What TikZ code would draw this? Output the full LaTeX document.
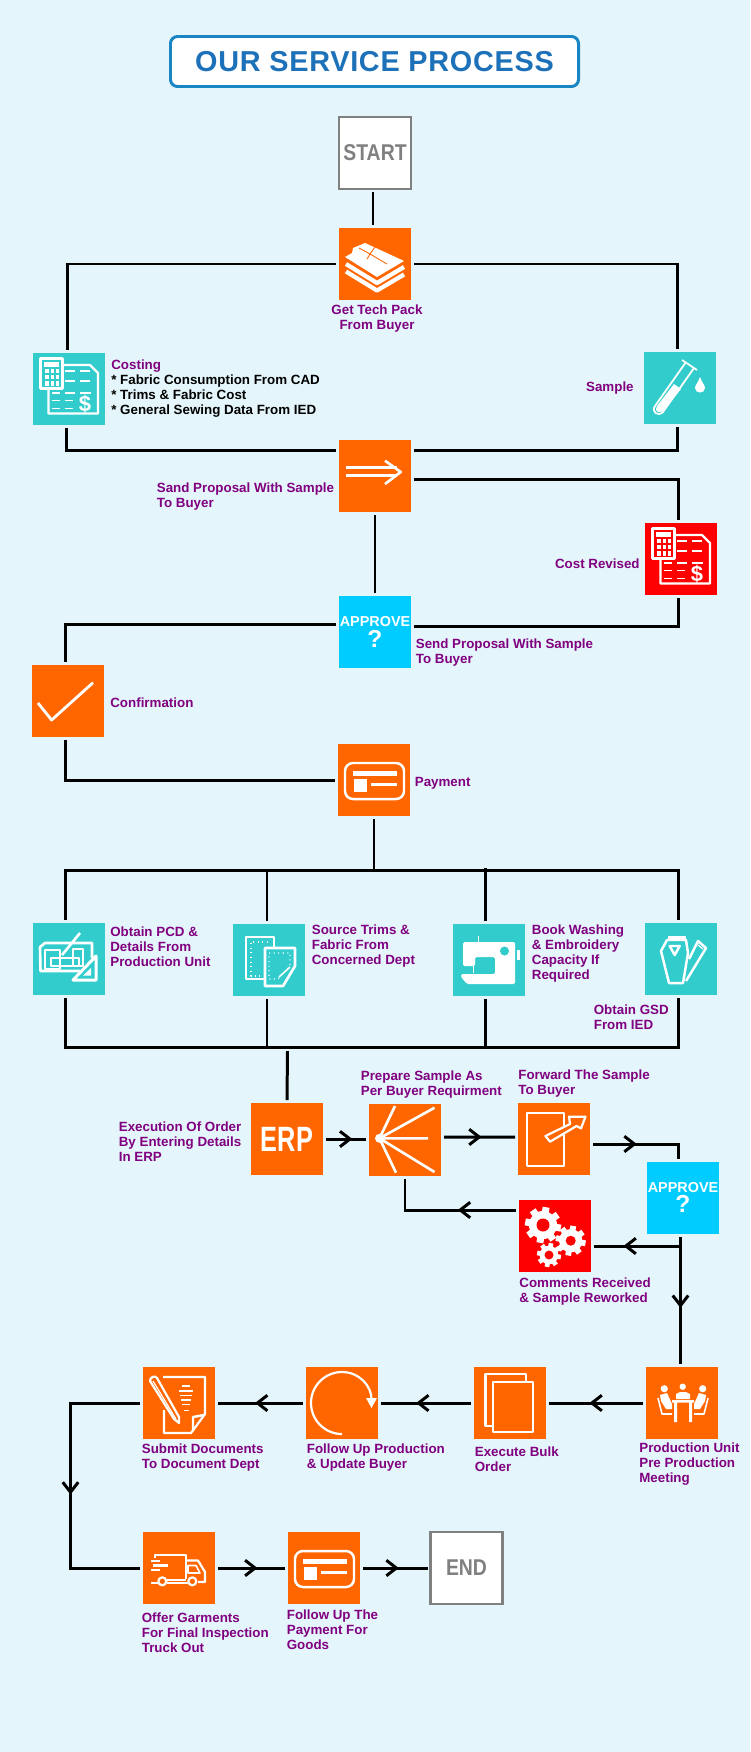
\documentclass[tikz,border=0pt]{standalone}
\usepackage{fontspec}
\setmainfont{Liberation Sans}
\newfontfamily\stepfont[FakeStretch=0.85]{Liberation Sans}
\newfontfamily\erpfont[FakeStretch=0.72]{Liberation Sans}
\newfontfamily\headfont[LetterSpace=2.5]{Liberation Sans}
\usetikzlibrary{arrows.meta,decorations.markings}

\definecolor{sheet}{HTML}{E4F6FB}
\definecolor{orangefill}{HTML}{FF6600}
\definecolor{tealfill}{HTML}{33CCCC}
\definecolor{redfill}{HTML}{FF0000}
\definecolor{bluefill}{HTML}{00CCFF}
\definecolor{lblpurple}{HTML}{800080}
\definecolor{termgray}{HTML}{808080}
\definecolor{headblue}{HTML}{1D71B8}

\tikzset{
  glyph/.style={shift={(#1.center)}, xshift=-0.72cm, yshift=0.72cm, x=0.02cm, y=-0.02cm,
                white, line width=1.25pt, line join=round}
}

% --- icons, drawn on a 72 x 72 grid inside the box -----------------------
\newcommand{\iconshirts}[1]{%
  \begin{scope}[glyph=#1]
    \fill (6,29) -- (13,25) -- (14,20) -- (26,15) -- (37,20) -- (65,33) -- (38,49) -- cycle;
    \draw[orangefill, line width=0.5pt] (20,20) -- (31,26) -- (28,31) (31,26) -- (36,19) (31,26) -- (48,36);
    \foreach \dy in {0,7.5}
      \draw[line width=2.4pt] (7,36+\dy) -- (38,55+\dy) -- (65,39+\dy);
  \end{scope}}
\newcommand{\iconcost}[2]{%
  \begin{scope}[glyph=#1]
    \draw (29.5,12) -- (57,12) -- (65,20) -- (65,60.5) -- (15.5,60.5) -- (15.5,35);
    \foreach \y in {18,28} \draw[line width=1pt] (32,\y) -- (42,\y) (47,\y) -- (57,\y);
    \draw[line width=1pt] (19,40) -- (27,40) (32,40) -- (42,40) (47,40) -- (58,40);
    \foreach \y in {47.5,55.5} \draw[line width=1pt] (19,\y) -- (27,\y) (32,\y) -- (40,\y);
    \draw[fill=#2, line width=1.5pt] (7.5,5.5) rectangle (29.5,35.5);
    \fill (11,9) rectangle (26,13.5);
    \foreach \x in {12.3,17.7,22.7} \foreach \y in {15.7,21.7,28} \fill (\x,\y) rectangle +(3.6,4.6);
    \node[inner sep=0pt, font=\bfseries\fontsize{12.5}{13}\selectfont] (#1-usd) at (52,51.5) {\$};
  \end{scope}}
\newcommand{\iconcard}[1]{%
  \begin{scope}[glyph=#1]
    \draw[line width=1.4pt, rounded corners=0.16cm] (7,19) rectangle (66,55);
    \fill (15,27) rectangle (59,32);
    \fill (16,35) rectangle (29,48);
    \fill (32.5,38.5) rectangle (59,41.5);
  \end{scope}}
\newcommand{\gearwheel}[4]{%
  \fill (#1,#2) circle[radius=#3*0.78];
  \foreach \a in {0,45,...,315}
    \draw[line width=#3*0.22pt] (#1,#2) ++(\a+10:#3*0.6) -- ++(\a+10:#3*0.4);
  \fill[redfill] (#1,#2) circle[radius=#4];}

\begin{document}
\begin{tikzpicture}[
    font=\fontsize{7.6}{8.54}\selectfont,
    iconbox/.style ={minimum width=1.44cm, minimum height=1.44cm, inner sep=0pt, outer sep=0.06cm},
    orangebox/.style={iconbox, fill=orangefill},
    tealbox/.style ={iconbox, fill=tealfill},
    redbox/.style  ={iconbox, fill=redfill},
    askbox/.style  ={iconbox, fill=bluefill, text=white, align=center,
                     font=\bfseries\fontsize{8.2}{9}\selectfont},
    termbox/.style ={iconbox, fill=white, draw=termgray, line width=1.5pt, text=termgray,
                     font=\stepfont\bfseries\fontsize{13}{13}\selectfont},
    lbl/.style     ={text=lblpurple, align=left, inner sep=0pt, yshift=-0.01cm,
                     font=\fontsize{7.6}{8.54}\selectfont\bfseries},
    fl/.style      ={draw=black, line width=1.7pt},
    midtip/.style  ={postaction={decorate}, decoration={markings, mark=at position #1 with
                     {\arrow{Straight Barb[length=2mm,width=3.1mm]}}}}
  ]
  \useasboundingbox (0,0) rectangle (15,-35.04);
  \fill[sheet] (0,0) rectangle (15,-35.04);

  % --- title -------------------------------------------------------------
  \node[draw=headblue!85!cyan, fill=white, line width=1.7pt, rounded corners=0.14cm,
        minimum width=8.16cm, minimum height=1cm, inner sep=0pt, text=headblue,
        font=\headfont\bfseries\fontsize{16.4}{17}\selectfont] (head) at (7.49,-1.23) {OUR SERVICE PROCESS};

  % --- first rows --------------------------------------------------------
  \node[termbox] (start) at (7.5,-3.06) {\raisebox{-1pt}{START}};
  \node[orangebox] (tech) at (7.5,-5.28) {};
  \node[tealbox] (cost) at (1.38,-7.78) {};
  \node[tealbox] (sample) at (13.6,-7.76) {};
  \node[orangebox] (send) at (7.5,-9.52) {};
  \node[redbox] (revised) at (13.62,-11.18) {};
  \node[askbox] (approve) at (7.5,-12.64) {APPROVE\\[1pt]{\fontsize{14}{14}\selectfont ?}};
  \node[orangebox] (confirm) at (1.36,-14.02) {};
  \node[orangebox] (pay) at (7.48,-15.6) {};

  \node[lbl, align=center] (ltech) at (7.54,-6.37) {Get Tech Pack\\From Buyer};
  \node[lbl, anchor=west] (lcost) at (2.22,-7.76) {Costing\\\textcolor{black}{* Fabric Consumption From CAD}\\
    \textcolor{black}{* Trims \& Fabric Cost}\\\textcolor{black}{* General Sewing Data From IED}};
  \node[lbl, anchor=east] (lsample) at (12.68,-7.76) {Sample};
  \node[lbl, anchor=west] (lsend) at (3.13,-9.92) {Sand Proposal With Sample\\To Buyer};
  \node[lbl, anchor=east] (lrevised) at (12.8,-11.26) {Cost Revised};
  \node[lbl, anchor=west] (lapprove) at (8.31,-13.04) {Send Proposal With Sample\\To Buyer};
  \node[lbl, anchor=west] (lconfirm) at (2.2,-14.04) {Confirmation};
  \node[lbl, anchor=west] (lpay) at (8.29,-15.66) {Payment};

  % --- parallel tasks ----------------------------------------------------
  \node[tealbox] (pcd) at (1.38,-19.18) {};
  \node[tealbox] (trims) at (5.38,-19.2) {};
  \node[tealbox] (sewing) at (9.78,-19.2) {};
  \node[tealbox] (gsd) at (13.62,-19.18) {};

  \node[lbl, anchor=west] (lpcd) at (2.2,-18.93) {Obtain PCD \&\\Details From\\Production Unit};
  \node[lbl, anchor=west] (ltrims) at (6.23,-18.92) {Source Trims \&\\Fabric From\\Concerned Dept};
  \node[lbl, anchor=west] (lsewing) at (10.63,-19.07) {Book Washing\\\& Embroidery\\Capacity If\\Required};
  \node[lbl, anchor=west] (lgsd) at (11.87,-20.33) {Obtain GSD\\From IED};

  % --- sample loop --------------------------------------------------------
  \node[orangebox, text=white, font=\erpfont\bfseries\fontsize{20}{20}\selectfont] (erp) at (5.74,-22.78) {ERP};
  \node[orangebox] (prep) at (8.1,-22.8) {};
  \node[orangebox] (fwd) at (11.08,-22.78) {};
  \node[askbox] (approveb) at (13.66,-23.95) {APPROVE\\[1pt]{\fontsize{14}{14}\selectfont ?}};
  \node[redbox] (comments) at (11.1,-24.72) {};

  \node[lbl, anchor=west] (lerp) at (2.37,-22.82) {Execution Of Order\\By Entering Details\\In ERP};
  \node[lbl, anchor=west] (lprep) at (7.21,-21.69) {Prepare Sample As\\Per Buyer Requirment};
  \node[lbl, anchor=west] (lfwd) at (10.36,-21.67) {Forward The Sample\\To Buyer};
  \node[lbl, anchor=west] (lcomments) at (10.38,-25.83) {Comments Received\\\& Sample Reworked};

  % --- bottom rows -------------------------------------------------------
  \node[orangebox] (meeting) at (13.64,-28.06) {};
  \node[orangebox] (bulk) at (10.2,-28.06) {};
  \node[orangebox] (follow) at (6.84,-28.06) {};
  \node[orangebox] (submit) at (3.58,-28.06) {};
  \node[orangebox] (offer) at (3.58,-31.36) {};
  \node[orangebox] (payb) at (6.48,-31.36) {};
  \node[termbox] (endb) at (9.33,-31.36) {END};

  \node[lbl, anchor=west] (lmeeting) at (12.78,-29.28) {Production Unit\\Pre Production\\Meeting};
  \node[lbl, anchor=west] (lbulk) at (9.49,-29.17) {Execute Bulk\\Order};
  \node[lbl, anchor=west] (lfollow) at (6.13,-29.15) {Follow Up Production\\\& Update Buyer};
  \node[lbl, anchor=west] (lsubmit) at (2.83,-29.15) {Submit Documents\\To Document Dept};
  \node[lbl, anchor=west] (loffer) at (2.83,-32.64) {Offer Garments\\For Final Inspection\\Truck Out};
  \node[lbl, anchor=west] (lpayb) at (5.73,-32.58) {Follow Up The\\Payment For\\Goods};

  % --- icons -------------------------------------------------------------
  \iconshirts{tech}
  \iconcost{cost}{tealfill}
  \iconcost{revised}{redfill}
  \iconcard{pay}
  \iconcard{payb}
  \begin{scope}[glyph=sample, line width=1pt]
    \draw (42,10) -- (11,54) .. controls (7,60) and (14,65) .. (19,60) -- (50,16);
    \draw (38,8) -- (53,18);
    \fill (30,32) -- (37,37) -- (19,59) .. controls (14,62) and (10,59) .. (13,54) -- cycle;
    \fill (56,25) .. controls (54,31) and (51,33) .. (51,36) .. controls (51,42) and (61,42) .. (61,36) .. controls (61,33) and (58,31) .. (56,25) -- cycle;
  \end{scope}
  \begin{scope}[glyph=send, line width=1.5pt]
    \draw (7,27.7) -- (58,27.7) (7,35.7) -- (58,35.7);
    \draw (46,20.7) -- (61.7,32) -- (46,44);
  \end{scope}
  \begin{scope}[glyph=confirm, line width=1.6pt]
    \draw (6,38) -- (19.6,55) -- (61,17.7);
  \end{scope}
  \begin{scope}[glyph=pcd]
    \draw[line width=1.5pt] (59,35) -- (59,20) -- (12,20) -- (7,24) -- (7.5,48) -- (47,48);
    \draw[line width=0.7pt] (12,27) rectangle (27,46) (18,35) rectangle (46,43) (40,26) rectangle (50,43);
    \draw[line width=1.5pt] (29,32) -- (47,10);
    \draw[fill=tealfill, line width=1.7pt] (63,33) -- (63,57) -- (40,57) -- cycle;
    \fill (58,45) -- (58,52.5) -- (50,52.5) -- cycle;
  \end{scope}
  \begin{scope}[glyph=trims]
    \draw[line width=1.5pt] (32,55) -- (13,55) -- (13,13) -- (41,13) -- (41,23);
    \draw[line width=1.5pt, fill=tealfill] (32,24) -- (62,24) -- (62,42) -- (50,62) -- (32,62) -- cycle;
    \draw[dotted, line width=0.6pt] (35,18) -- (18,18) -- (18,52) -- (30,52);
    \draw[dotted, line width=0.6pt] (36,29) -- (57,29) -- (57,42) -- (45,55) -- (36,55) -- cycle;
    \draw[line width=0.9pt] (46,53) -- (57,43);
  \end{scope}
  \begin{scope}[glyph=sewing]
    \fill[rounded corners=0.03cm] (10,18) -- (62,18) -- (62,60) -- (14,60) -- (8,53) -- (8,50) -- (42,50) -- (42,33)
       -- (22,33) -- (22,42) -- (10,42) -- cycle;
    \fill[tealfill] (51.5,27) circle[radius=4.5];
    \fill (63.5,26) rectangle (66.5,36);
    \draw[line width=0.5pt] (25,12) -- (25,18) (20,42) -- (20,49);
  \end{scope}
  \begin{scope}[glyph=gsd]
    \draw[line width=1.4pt] (22,17) -- (16,28) -- (24,60) -- (38,60) -- (43,30) -- (41,17) -- cycle;
    \fill (22.5,13) rectangle (41,17);
    \draw[line width=1.4pt] (24.7,23) -- (34.7,23) -- (29.7,32) -- cycle;
    \draw[fill=tealfill, line width=1.4pt] (44,36) -- (53,18) -- (61,25) -- (41,58);
    \draw[line width=0.7pt] (53,22) -- (58,26);
  \end{scope}
  \begin{scope}[glyph=prep]
    \fill (10.5,34.3) circle[radius=4.5];
    \draw[line width=1.5pt] (10.5,34.3) -- (26,2) (10.5,34.3) -- (65.5,3.7) (10.5,34.3) -- (59,34.3)
      (10.5,34.3) -- (65.5,68) (10.5,34.3) -- (27,68.7);
  \end{scope}
  \begin{scope}[glyph=fwd]
    \draw (8.6,9.7) rectangle (46,63);
    \draw[fill=orangefill] (27.4,33) -- (52,21) -- (51,13.7) -- (67.5,13.7) -- (63,25.3) -- (58.5,23) -- (32,38.7) -- cycle;
  \end{scope}
  \begin{scope}[glyph=comments]
    \gearwheel{24}{25}{18}{6.5}
    \gearwheel{51.7}{40.7}{15}{5}
    \gearwheel{30}{55}{12}{4.5}
  \end{scope}
  \begin{scope}[glyph=meeting]
    \fill (18.3,21.7) circle[radius=3.6] (36.7,19.7) circle[radius=3.2] (56.7,21.7) circle[radius=3.6];
    \fill (30,32) -- (30,27) -- (34,25) -- (40,25) -- (44,27) -- (44,32) -- cycle;
    \fill (26,33) rectangle (48,35.5) (28,35.5) rectangle (31,55) (43,35.5) rectangle (46,55);
    \fill (14,28) -- (21,26) -- (26,37) -- (26,42) -- (20,42) -- (15,34) -- cycle;
    \fill (60,28) -- (53,26) -- (48,37) -- (48,42) -- (54,42) -- (59,34) -- cycle;
    \draw[line width=0.9pt] (12,31) -- (16,47) -- (26,47) (62,31) -- (58,47) -- (48,47);
  \end{scope}
  \begin{scope}[glyph=bulk]
    \draw (52,14.7) -- (52,7.3) -- (11.5,7.3) -- (11.5,59) -- (18.7,59);
    \draw (18.7,14.7) rectangle (59,65);
  \end{scope}
  \begin{scope}[glyph=follow]
    \draw (36,67) .. controls (18.9,67) and (5,53.1) .. (5,36) .. controls (5,18.9) and (18.9,5) .. (36,5)
      .. controls (53.1,5) and (65.5,18.9) .. (65.5,32);
    \fill (60,31) -- (71,31) -- (65.5,41) -- cycle;
  \end{scope}
  \begin{scope}[glyph=submit]
    \draw (20,10) -- (62,10) -- (62,47) -- (48,66) -- (21,66) -- (21,43);
    \draw[line width=1.4pt] (50,64) -- (50,50) -- (61,48);
    \draw[line width=1pt] (39,19) -- (47,19) (36,24) -- (50,24) (37,28.5) -- (49,28.5)
      (38,33) -- (48,33) (39,37.5) -- (47,37.5) (41,43.5) -- (46,43.5);
    \draw[fill=orangefill] (7,14) .. controls (7,10) and (12,8) .. (14,11) -- (36,50) -- (36,56) -- (31,52) -- cycle;
    \draw[line width=0.7pt] (10,14) -- (33,52);
  \end{scope}
  \begin{scope}[glyph=offer]
    \draw (12,26) -- (12,23) -- (43,23) -- (43,47);
    \draw (8,29) -- (17,29) (10,33.5) -- (25,33.5) (8,38) -- (17,38);
    \draw (43,28.5) -- (55,28.5) -- (62,40) -- (62,50) -- (55,50);
    \draw[line width=0.9pt] (45,33.5) -- (53,33.5) -- (57,41) -- (45,41) -- cycle;
    \draw (19.3,49.3) circle[radius=4] (49.3,49.3) circle[radius=4];
    \draw (8,51) -- (15,51) (24,51) -- (45,51) (24,48) -- (43,48);
  \end{scope}

  % --- connectors ---------------------------------------------------------
  \draw[fl] ([xshift=-0.04cm]start.south) -- ([xshift=-0.04cm]tech.north);
  \draw[fl] (tech.west) -| ([xshift=-0.03cm]cost.north);
  \draw[fl] (tech.east) -| ([xshift=-0.05cm]sample.north);
  \draw[fl] ([xshift=-0.05cm]cost.south) |- ([yshift=0.51cm]send.west);
  \draw[fl] ([yshift=0.51cm]send.east) -| ([xshift=-0.05cm]sample.south);
  \draw[fl] ([yshift=-0.06cm]send.east) -| ([xshift=-0.06cm]revised.north);
  \draw[fl] (send.south) -- (approve.north);
  \draw[fl] ([xshift=-0.06cm]revised.south) |- ([yshift=0.12cm]approve.east);
  \draw[fl] ([yshift=0.16cm]approve.west) -| ([xshift=-0.05cm]confirm.north);
  \draw[fl] ([xshift=-0.05cm]confirm.south) |- (pay.west);

  \coordinate (topbus) at (7.5,-17.4);
  \coordinate (lowbus) at (7.5,-20.94);
  \coordinate (buslead) at (5.75,-21.02);
  \draw[fl] (pay.south) -- (pay.south |- topbus);
  \draw[fl] ([xshift=-0.07cm]pcd.north) |- (topbus) -| ([xshift=-0.06cm]gsd.north);
  \draw[fl] ([xshift=-0.07cm]pcd.south) |- (lowbus) -| ([xshift=-0.06cm]gsd.south);
  \draw[fl] ([xshift=-0.04cm]trims.north) -- ([xshift=-0.04cm]trims.north |- topbus);
  \draw[fl] ([xshift=-0.04cm]trims.south) -- ([xshift=-0.04cm]trims.south |- lowbus);
  \draw[fl] ([xshift=-0.07cm]sewing.north) -- ([xshift=-0.07cm,yshift=0.04cm]sewing.north |- topbus);
  \draw[fl] ([xshift=-0.07cm]sewing.south) -- ([xshift=-0.07cm]sewing.south |- lowbus);
  \draw[fl] (buslead) -- (erp.north);

  \draw[fl, midtip=0.66] (erp.east) -- (prep.west |- erp.east);
  \draw[fl, midtip=0.53] ([yshift=0.06cm]prep.east) -- ([yshift=0.04cm]fwd.west);
  \draw[fl, midtip=0.44] ([yshift=-0.1cm]fwd.east) -| ([xshift=-0.1cm]approveb.north);
  \draw[fl, midtip=0.41] ([yshift=0.52cm]comments.west) -| (prep.south);
  \coordinate (askfork) at (13.61,-24.92);
  \draw[fl, midtip=0.66] (askfork) -- (askfork -| comments.east);
  \draw[fl, midtip=0.56] ([xshift=-0.05cm]approveb.south) -- ([xshift=-0.03cm]meeting.north);

  \draw[fl, midtip=0.57] (meeting.west) -- (bulk.east);
  \draw[fl, midtip=0.61] (bulk.west) -- (follow.east);
  \draw[fl, midtip=0.565] (follow.west) -- (submit.east);
  \coordinate (sideturn) at (1.41,-30);
  \draw[fl, midtip=0.53] (submit.west) -| (sideturn) |- (offer.west);
  \draw[fl, midtip=0.59] (offer.east) -- (payb.west);
  \draw[fl, midtip=0.555] (payb.east) -- (endb.west);

\end{tikzpicture}
\end{document}
